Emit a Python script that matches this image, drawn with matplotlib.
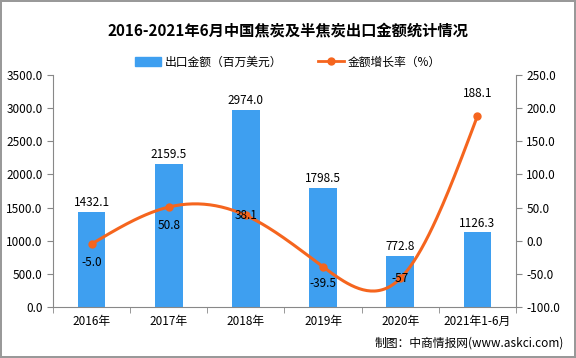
import numpy as np
import matplotlib.pyplot as plt
from matplotlib.lines import Line2D
from matplotlib.patches import Patch

plt.rcParams['font.family'] = ['Noto Sans CJK SC', 'DejaVu Sans']

# data
categories = ['2016年', '2017年', '2018年', '2019年', '2020年', '2021年1-6月']
amount = [1432.1, 2159.5, 2974.0, 1798.5, 772.8, 1126.3]
growth = [-5.0, 50.8, 38.1, -39.5, -57, 188.1]
growth_labels = ['-5.0', '50.8', '38.1', '-39.5', '-57', '188.1']

bar_color = '#3e9ff0'
line_color = '#f5651e'


def smooth(xs, ys, n=200):
    # natural cubic spline, only for drawing the curve
    xs = np.asarray(xs, float)
    ys = np.asarray(ys, float)
    m = len(xs)
    h = np.diff(xs)
    A = np.zeros((m, m))
    r = np.zeros(m)
    A[0, 0] = A[-1, -1] = 1
    for i in range(1, m - 1):
        A[i, i - 1] = h[i - 1]
        A[i, i] = 2 * (h[i - 1] + h[i])
        A[i, i + 1] = h[i]
        r[i] = 3 * ((ys[i + 1] - ys[i]) / h[i] - (ys[i] - ys[i - 1]) / h[i - 1])
    c = np.linalg.solve(A, r)
    xx = np.linspace(xs[0], xs[-1], n)
    yy = np.empty_like(xx)
    for k, x in enumerate(xx):
        i = min(np.searchsorted(xs, x, side='right') - 1, m - 2)
        dx = x - xs[i]
        b = (ys[i + 1] - ys[i]) / h[i] - h[i] * (2 * c[i] + c[i + 1]) / 3
        d = (c[i + 1] - c[i]) / (3 * h[i])
        yy[k] = ys[i] + b * dx + c[i] * dx ** 2 + d * dx ** 3
    return xx, yy


fig = plt.figure(figsize=(5.76, 3.58), dpi=100)
fig.patch.set_edgecolor('#999999')
fig.patch.set_linewidth(1.5)
ax = fig.add_axes([53 / 576, 1 - 307 / 358, 463 / 576, 232 / 358])
ax2 = ax.twinx()

x = np.arange(len(categories))
ax.bar(x, amount, width=0.36, color=bar_color, zorder=2)
ax.set_xlim(-0.5, len(categories) - 0.5)
ax.set_ylim(0, 3500)
ax.set_yticks(np.arange(0, 3501, 500))
ax.set_yticklabels(['%.1f' % v for v in np.arange(0, 3501, 500)], fontsize=8.5)
ax.set_xticks(x)
ax.set_xticklabels(categories, fontsize=8.5)
ax.set_xticks(np.arange(-0.5, len(categories), 1), minor=True)
ax.tick_params(axis='x', which='major', length=0, pad=6)
ax.tick_params(axis='x', which='minor', length=4, color='#888888')
ax.tick_params(axis='y', length=4, color='#888888')
for s in ['top', 'right']:
    ax.spines[s].set_visible(False)
ax.spines['left'].set_color('#888888')
ax.spines['bottom'].set_color('#888888')

for xi, v in zip(x, amount):
    ax.text(xi, v + 40, '%.1f' % v, ha='center', va='bottom', fontsize=8.5)

xx, yy = smooth(x, growth)
ax2.plot(xx, yy, color=line_color, lw=2.2, zorder=3)
ax2.plot(x, growth, 'o', color=line_color, ms=5, zorder=4)
ax2.set_ylim(-100, 250)
ax2.set_yticks(np.arange(-100, 251, 50))
ax2.set_yticklabels(['%.1f' % v for v in np.arange(-100, 251, 50)], fontsize=8.5)
ax2.tick_params(axis='y', length=4, color='#888888')
for s in ['top', 'left', 'bottom']:
    ax2.spines[s].set_visible(False)
ax2.spines['right'].set_color('#888888')

offsets = [-13, -13, 0, -12, 0, 16]
for xi, v, lab, off in zip(x, growth, growth_labels, offsets):
    ax2.annotate(lab, (xi, v), xytext=(0, off), textcoords='offset points',
                 ha='center', va='center', fontsize=8.5, zorder=5)

fig.text(0.5, 1 - 30 / 358, '2016-2021年6月中国焦炭及半焦炭出口金额统计情况',
         ha='center', va='center', fontsize=11, fontweight='bold')

handles = [Patch(color=bar_color),
           Line2D([], [], color=line_color, lw=2, marker='o', ms=5)]
fig.legend(handles, ['出口金额（百万美元）', '金额增长率（%）'],
           loc='center', bbox_to_anchor=(0.5, 1 - 62 / 358), ncol=2,
           frameon=False, fontsize=8.5, handlelength=2.2, columnspacing=3,
           handletextpad=0.3)

fig.text(1 - 12 / 576, 1 - 343 / 358, '制图：中商情报网(www.askci.com)',
         ha='right', va='center', fontsize=8.5)

fig.savefig('out.png', dpi=100)
